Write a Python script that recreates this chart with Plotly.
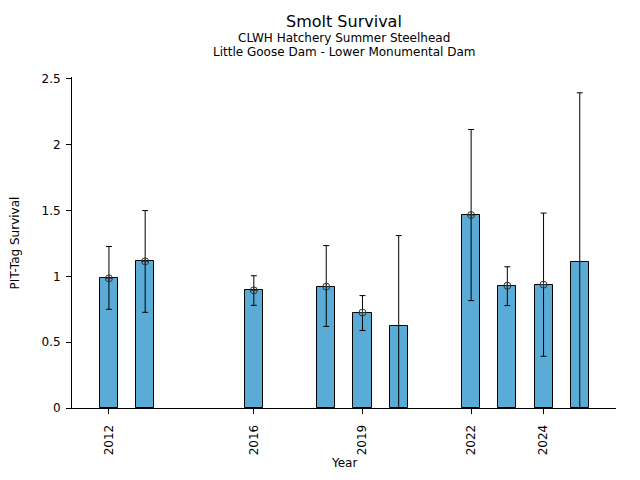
import plotly.graph_objects as go

years = [2012, 2013, 2016, 2018, 2019, 2020, 2022, 2023, 2024, 2025]
survival = [0.985, 1.114, 0.894, 0.922, 0.725, 0.62, 1.466, 0.929, 0.937, 1.111]
upper = [1.227, 1.50, 1.005, 1.234, 0.854, 1.31, 2.116, 1.073, 1.481, 2.395]
lower = [0.75, 0.727, 0.78, 0.62, 0.589, 0.0, 0.816, 0.778, 0.393, 0.0]
show_marker = [1, 1, 1, 1, 1, 0, 1, 1, 1, 0]
tick_years = [2012, 2016, 2019, 2022, 2024]
y_ticks = [0, 0.5, 1, 1.5, 2, 2.5]
y_tick_text = ["0", "0.5", "1", "1.5", "2", "2.5"]

err_plus = [u - s for u, s in zip(upper, survival)]
err_minus = [s - l for s, l in zip(survival, lower)]

fig = go.Figure()
fig.add_trace(go.Bar(
    x=years, y=survival, width=0.5,
    marker=dict(color="#5aacd6", line=dict(color="black", width=1)),
    showlegend=False,
))
fig.add_trace(go.Scatter(
    x=years, y=survival, mode="markers",
    marker=dict(symbol="circle-cross-open", size=7, color="#333333",
                opacity=show_marker, line=dict(width=1)),
    error_y=dict(type="data", symmetric=False, array=err_plus, arrayminus=err_minus,
                 color="black", thickness=1, width=3),
    showlegend=False, cliponaxis=False,
))

font = "DejaVu Sans"
fig.update_layout(
    width=624, height=464,
    margin=dict(l=64, r=16, t=69, b=64),
    plot_bgcolor="white", paper_bgcolor="white",
    font=dict(family=font, size=12, color="black"),
    bargap=0,
    xaxis=dict(range=[2010.98, 2026.0], tickmode="array", tickvals=tick_years,
               ticktext=[str(t) for t in tick_years], tickangle=-90, automargin=False,
               showgrid=False, zeroline=False, showline=True, linecolor="black",
               linewidth=1, ticks="outside", ticklen=5, tickcolor="black",
               ticklabelstandoff=6, tickfont=dict(size=12)),
    yaxis=dict(range=[0, 2.515], tickvals=y_ticks, ticktext=y_tick_text, automargin=False,
               showgrid=False, zeroline=False, showline=True, linecolor="black",
               linewidth=1, ticks="outside", ticklen=5, tickcolor="black",
               ticklabelstandoff=3, tickfont=dict(size=12)),
    annotations=[
        dict(text="Smolt Survival", x=0.5, y=1.169, xref="paper", yref="paper",
             showarrow=False, font=dict(size=16), yanchor="middle"),
        dict(text="CLWH Hatchery Summer Steelhead", x=0.5, y=1.117, xref="paper", yref="paper",
             showarrow=False, font=dict(size=12), yanchor="middle"),
        dict(text="Little Goose Dam - Lower Monumental Dam", x=0.5, y=1.0755, xref="paper",
             yref="paper", showarrow=False, font=dict(size=12), yanchor="middle"),
        dict(text="Year", x=0.5, y=-0.1934, xref="paper", yref="paper",
             showarrow=False, font=dict(size=12), yanchor="bottom"),
        dict(text="PIT-Tag Survival", x=-0.105, y=0.5, xref="paper", yref="paper",
             showarrow=False, font=dict(size=12), textangle=-90,
             xanchor="center", yanchor="middle"),
    ],
)

fig.write_html("out.html")
